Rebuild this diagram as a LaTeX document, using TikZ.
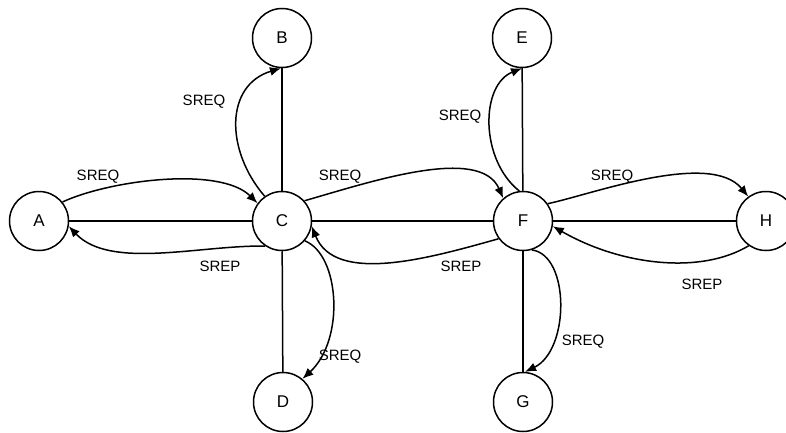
\documentclass[tikz,border=0pt]{standalone}
\usepackage{fontspec}
\setmainfont{Liberation Sans}
\usetikzlibrary{arrows.meta}
\begin{document}
\begin{tikzpicture}[x=1pt,y=-1pt,
  station/.style={circle,draw,line width=1.5pt,minimum size=59pt,inner sep=0pt,font=\fontsize{17}{20}\selectfont},
  link/.style={line width=1.5pt},
  msg/.style={line width=1.5pt,-{Latex[length=11pt,width=9pt]}},
  tag/.style={font=\fontsize{15}{18}\selectfont,inner sep=0pt}]
\useasboundingbox (0,0) rectangle (786,433);
% stations
\node[station] (A) at (39,221) {A};
\node[station] (B) at (282,38) {B};
\node[station] (C) at (282,221) {C};
\node[station] (D) at (283,402) {D};
\node[station] (E) at (522,38) {E};
\node[station] (F) at (523,221) {F};
\node[station] (G) at (523,402) {G};
\node[station] (H) at (766,221) {H};
% physical links
\draw[link] (A) -- (C);
\draw[link] (C) -- (F);
\draw[link] (F) -- (H);
\draw[link] (C) -- (B);
\draw[link] (C) -- (D);
\draw[link] (F) -- (E);
\draw[link] (F) -- (G);
% request / reply messages
\draw[msg] (A.39) .. controls (110,180) and (220,166) .. (C.144);
\draw[msg] (C.236) .. controls (200,245) and (110,270) .. (A.-10);
\draw[msg] (C.125) .. controls (225,150) and (225,85) .. (B.-92);
\draw[msg] (C.-41) .. controls (340,255) and (345,340) .. (D.50);
\draw[msg] (C.42) .. controls (370,182) and (480,145) .. (F.131);
\draw[msg] (F.216) .. controls (430,258) and (335,285) .. (C.-10);
\draw[msg] (F.97) .. controls (480,160) and (480,85) .. (E.-90);
\draw[msg] (F.-73) .. controls (570,255) and (570,350) .. (G.86);
\draw[msg] (F.35) .. controls (590,195) and (710,150) .. (H.126);
\draw[msg] (H.235) .. controls (700,275) and (620,265) .. (F.-10);
% message labels
\node[tag] (l1) at (98,177) {SREQ};
\node[tag] (l2) at (220,266) {SREP};
\node[tag] (l3) at (204,102) {SREQ};
\node[tag] (l4) at (340,357) {SREQ};
\node[tag] (l5) at (340,177) {SREQ};
\node[tag] (l6) at (461,266) {SREP};
\node[tag] (l7) at (460,117) {SREQ};
\node[tag] (l8) at (583,342) {SREQ};
\node[tag] (l9) at (612,177) {SREQ};
\node[tag] (l10) at (702,284) {SREP};
\end{tikzpicture}
\end{document}
